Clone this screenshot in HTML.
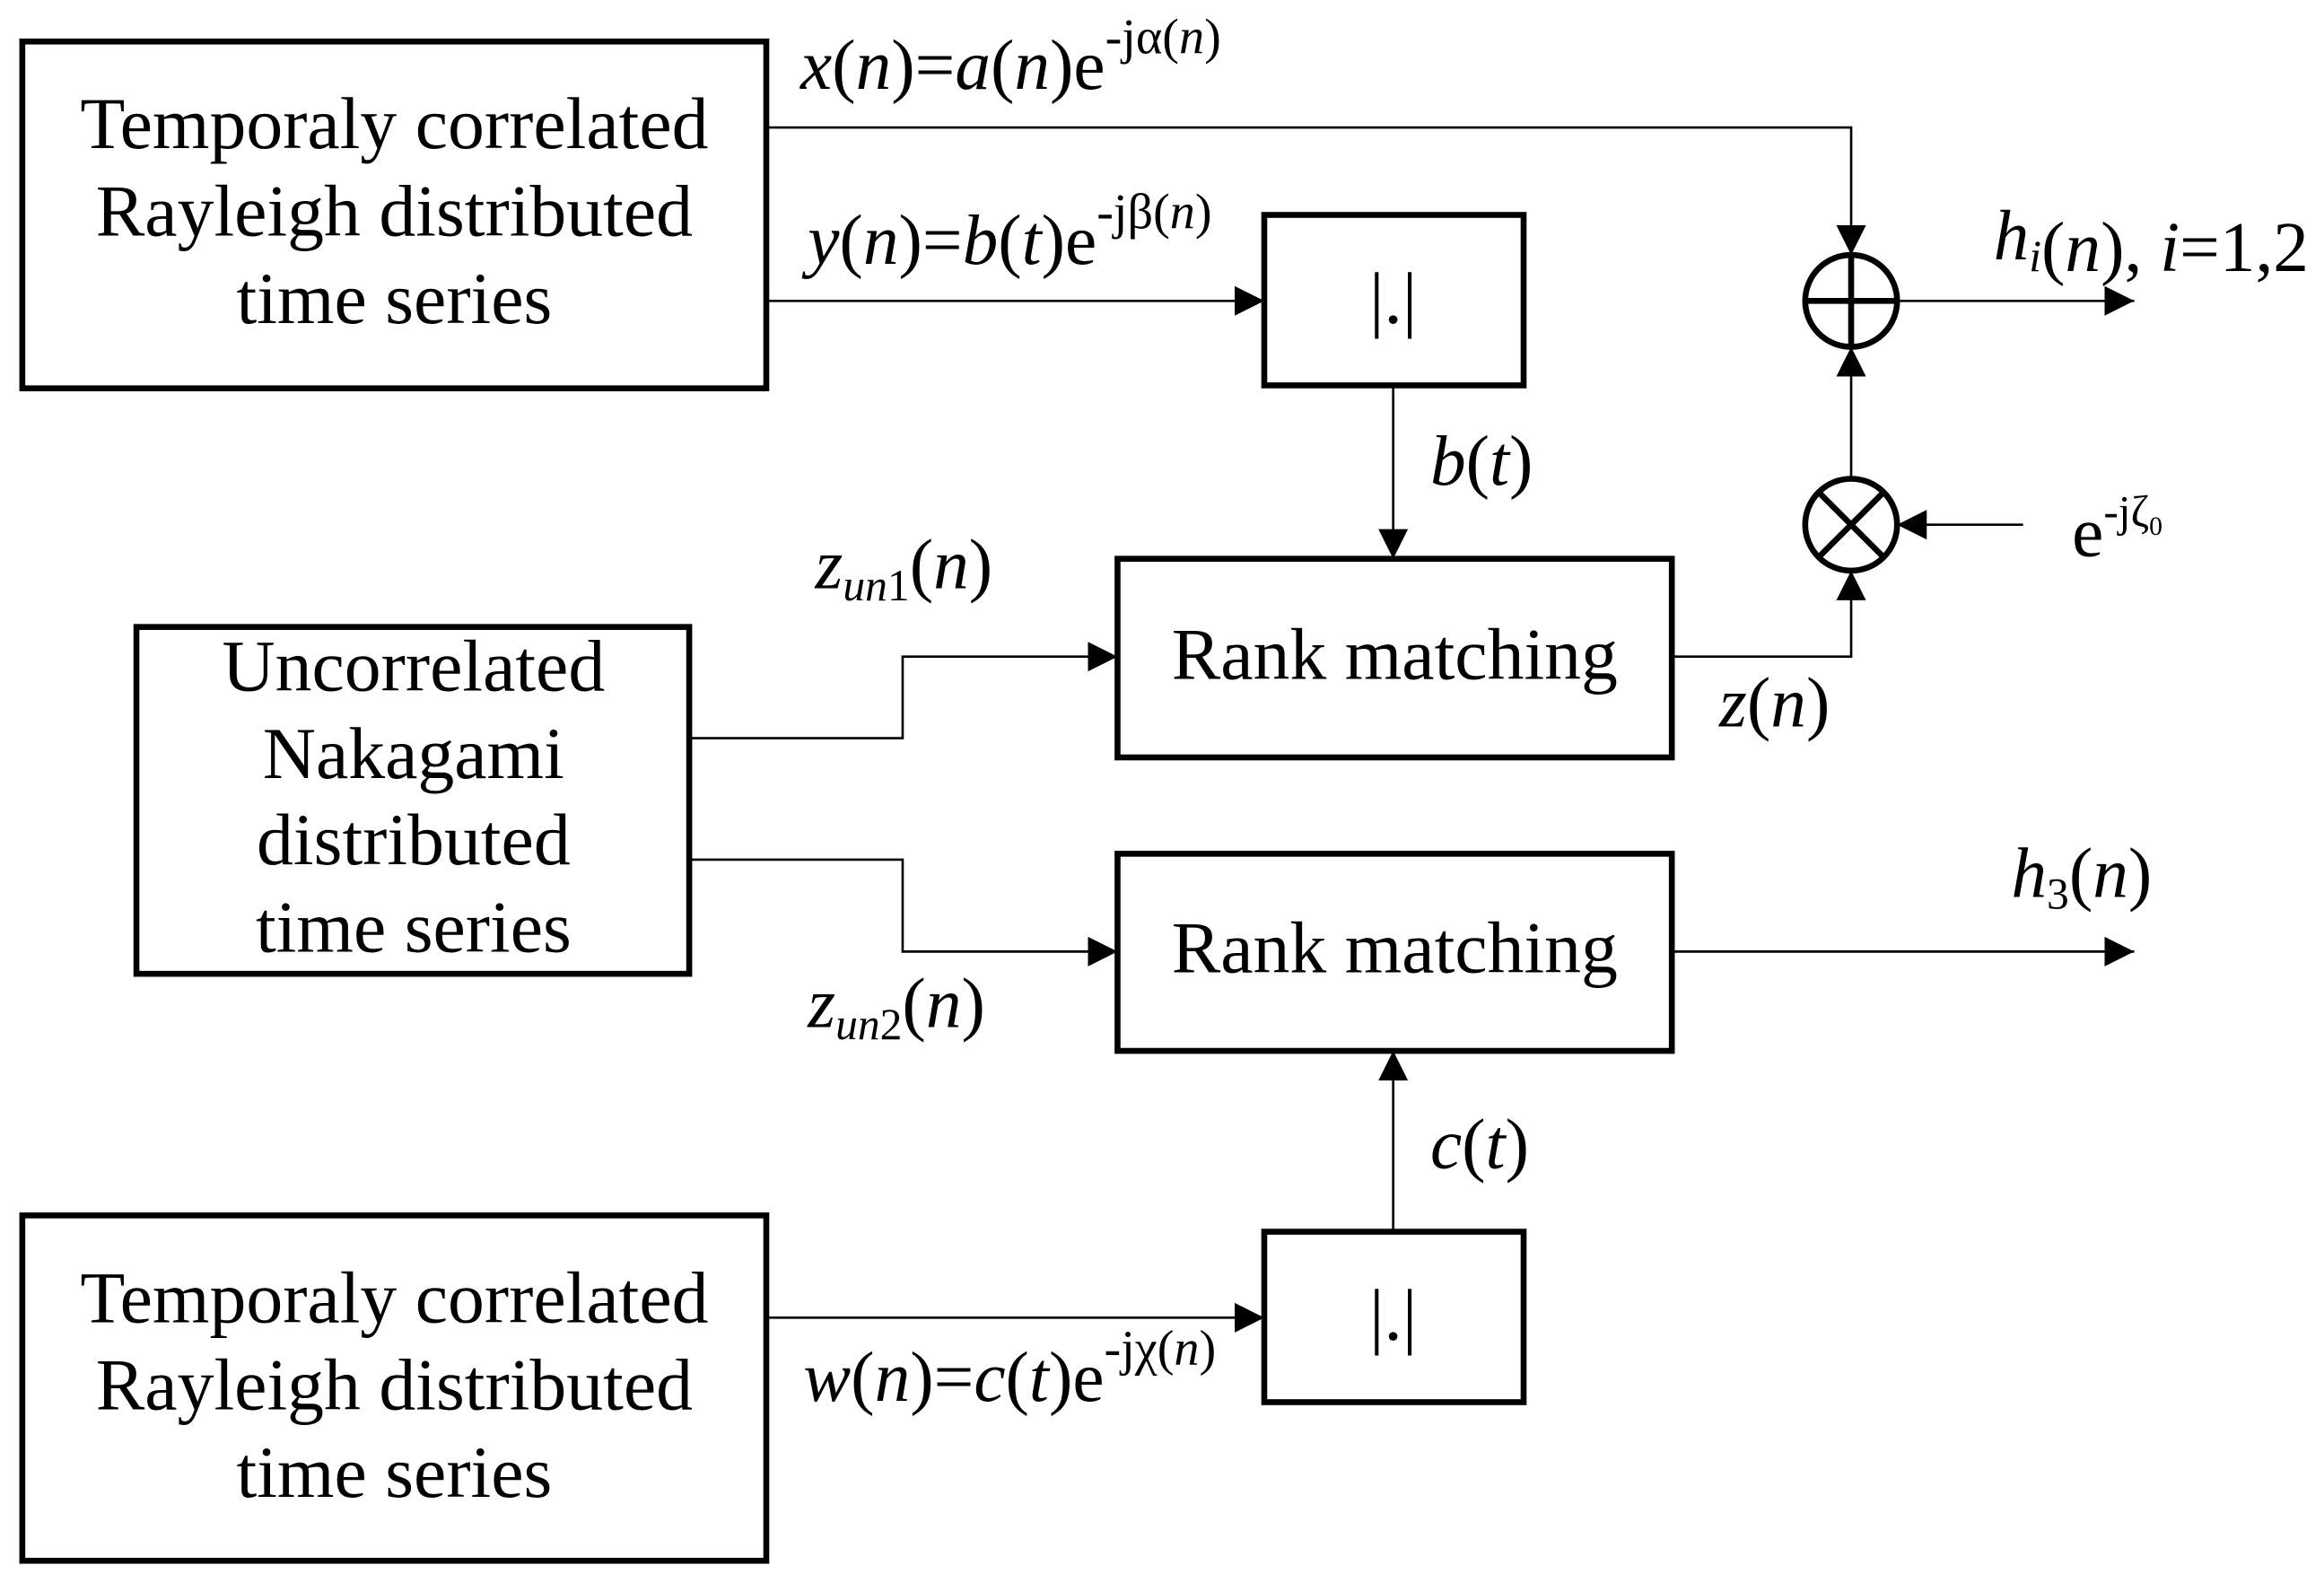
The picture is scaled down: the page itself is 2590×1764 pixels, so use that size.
<!DOCTYPE html>
<html><head><meta charset="utf-8"><style>
html,body{margin:0;padding:0;background:#fff;}
svg{display:block;}
text{font-family:"Liberation Serif",serif;fill:#000;}
.it{font-style:italic;}
</style></head><body>
<svg width="2590" height="1764" viewBox="0 0 1568 1068" xmlns="http://www.w3.org/2000/svg">
<defs>
<marker id="a" viewBox="0 0 10 10" refX="10" refY="5" markerWidth="20" markerHeight="20" markerUnits="userSpaceOnUse" orient="auto">
<path d="M0,0 L10,5 L0,10 z" fill="#000"/></marker>
</defs>
<g fill="none" stroke="#000" stroke-width="4">
<rect x="15" y="28" width="502" height="234"/>
<rect x="853" y="145" width="175" height="115"/>
<rect x="754" y="377" width="374" height="134"/>
<rect x="92" y="423" width="373" height="234"/>
<rect x="754" y="576" width="374" height="133"/>
<rect x="853" y="831" width="175" height="115"/>
<rect x="15" y="820" width="502" height="233"/>
<circle cx="1249" cy="203" r="31"/>
<line x1="1218" y1="203" x2="1280" y2="203"/>
<line x1="1249" y1="172" x2="1249" y2="234"/>
<circle cx="1249" cy="354" r="31"/>
<line x1="1227" y1="332" x2="1271" y2="376"/>
<line x1="1271" y1="332" x2="1227" y2="376"/>
</g>
<g fill="none" stroke="#000" stroke-width="1.6">
<polyline points="517,86 1249,86 1249,172" marker-end="url(#a)"/>
<line x1="517" y1="203" x2="853" y2="203" marker-end="url(#a)"/>
<line x1="1280" y1="203" x2="1440" y2="203" marker-end="url(#a)"/>
<line x1="940" y1="260" x2="940" y2="377" marker-end="url(#a)"/>
<line x1="1249" y1="323" x2="1249" y2="234" marker-end="url(#a)"/>
<line x1="1365" y1="354" x2="1280" y2="354" marker-end="url(#a)"/>
<polyline points="1128,443 1249,443 1249,385" marker-end="url(#a)"/>
<polyline points="465,498 609,498 609,443 754,443" marker-end="url(#a)"/>
<polyline points="465,580 609,580 609,642 754,642" marker-end="url(#a)"/>
<line x1="1128" y1="642" x2="1440" y2="642" marker-end="url(#a)"/>
<line x1="940" y1="831" x2="940" y2="709" marker-end="url(#a)"/>
<line x1="517" y1="889" x2="853" y2="889" marker-end="url(#a)"/>
</g>
<g font-size="49.5" text-anchor="middle">
<text x="266" y="100">Temporaly correlated</text>
<text x="266" y="159">Rayleigh distributed</text>
<text x="266" y="218">time series</text>
<text x="279" y="466">Uncorrelated</text>
<text x="279" y="525">Nakagami</text>
<text x="279" y="583">distributed</text>
<text x="279" y="642">time series</text>
<text x="266" y="892">Temporaly correlated</text>
<text x="266" y="951">Rayleigh distributed</text>
<text x="266" y="1010">time series</text>
<text x="941" y="458">Rank matching</text>
<text x="941" y="656">Rank matching</text>
<text x="940" y="218">|.|</text>
<text x="940" y="904">|.|</text>
</g>
<g font-size="48">
<text x="540" y="60"><tspan class="it">x</tspan>(<tspan class="it">n</tspan>)=<tspan class="it">a</tspan>(<tspan class="it">n</tspan>)e<tspan font-size="34" dy="-24">-jα(<tspan class="it">n</tspan>)</tspan></text>
<text x="545" y="178"><tspan class="it">y</tspan>(<tspan class="it">n</tspan>)=<tspan class="it">b</tspan>(<tspan class="it">t</tspan>)e<tspan font-size="34" dy="-24">-jβ(<tspan class="it">n</tspan>)</tspan></text>
<text x="1345" y="175"><tspan class="it">h<tspan font-size="30" dy="8">i</tspan><tspan dy="-8"></tspan></tspan>(<tspan class="it">n</tspan>), <tspan class="it">i</tspan>=1,2</text>
<text x="965" y="327"><tspan class="it">b</tspan>(<tspan class="it">t</tspan>)</text>
<text x="1398" y="375">e<tspan font-size="30" dy="-20">-jζ</tspan><tspan font-size="18" dy="6">0</tspan></text>
<text x="550" y="397"><tspan class="it">z<tspan font-size="30" dy="8">un</tspan></tspan><tspan font-size="30">1</tspan><tspan dy="-8">(</tspan><tspan class="it">n</tspan>)</text>
<text x="1160" y="490"><tspan class="it">z</tspan>(<tspan class="it">n</tspan>)</text>
<text x="1357" y="605"><tspan class="it">h</tspan><tspan font-size="30" dy="8">3</tspan><tspan dy="-8">(</tspan><tspan class="it">n</tspan>)</text>
<text x="545" y="693"><tspan class="it">z<tspan font-size="30" dy="8">un</tspan></tspan><tspan font-size="30">2</tspan><tspan dy="-8">(</tspan><tspan class="it">n</tspan>)</text>
<text x="965" y="788"><tspan class="it">c</tspan>(<tspan class="it">t</tspan>)</text>
<text x="542" y="945"><tspan class="it">w</tspan>(<tspan class="it">n</tspan>)=<tspan class="it">c</tspan>(<tspan class="it">t</tspan>)e<tspan font-size="34" dy="-24">-jχ(<tspan class="it">n</tspan>)</tspan></text>
</g>
</svg>
</body></html>
